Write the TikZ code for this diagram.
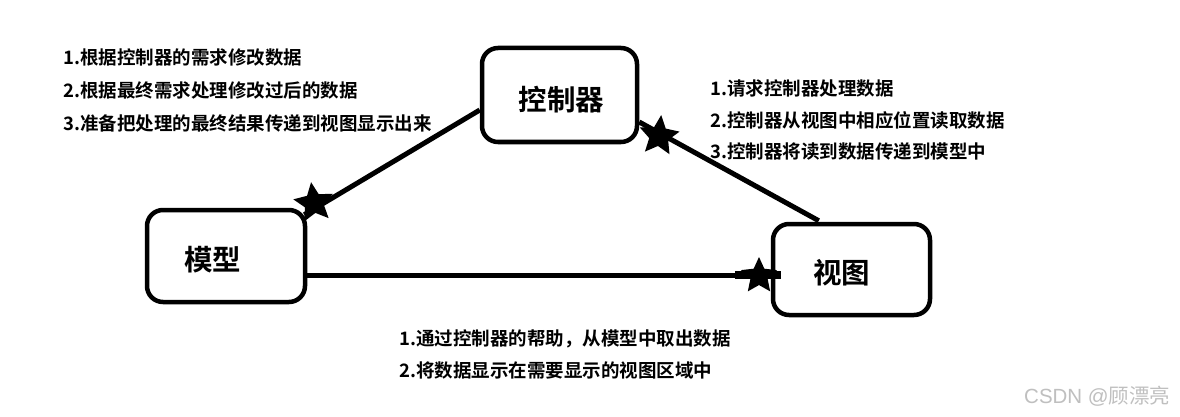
\documentclass[tikz,border=0pt]{standalone}
\usepackage{fontspec}
\setmainfont{Noto Sans CJK SC}[BoldFont={Noto Sans CJK SC Bold}]
\newfontfamily\wmlatin{Liberation Sans}
\usetikzlibrary{shapes.geometric,calc}
\tikzset{
  box/.style={draw=black, line width=4.5pt, rounded corners=16pt, fill=white,
    font=\fontsize{28.5}{32}\selectfont\bfseries, inner sep=0pt},
  link/.style={draw=black, line width=5pt},
  note/.style={anchor=west, inner sep=0pt, font=\fontsize{18.5}{22}\selectfont\bfseries},
  starmark/.style={star, star points=5, star point ratio=2.1, fill=black, draw=none, inner sep=0pt},
  wm/.style={anchor=west, inner sep=0pt, text=black!25, font=\fontsize{20.5}{22}\selectfont},
}
\newcommand{\boxtext}[3]{\hspace*{#1}\raisebox{#2}[\height][\depth]{#3}}
\begin{document}
\begin{tikzpicture}[x=1pt,y=-1pt]
\useasboundingbox (0,0) rectangle (1180,417);
\fill[white] (0,0) rectangle (1180,417);
% boxes
\node[box, minimum width=155pt, minimum height=94pt] (ctrl) at (559.5,95) {\boxtext{4pt}{-5pt}{控制器}};
\node[box, minimum width=158pt, minimum height=92pt] (model) at (226,256) {\boxtext{-27pt}{-4pt}{模型}};
\node[box, minimum width=157pt, minimum height=91pt] (view) at (851.5,269.5) {\boxtext{-20pt}{-3.5pt}{视图}};
% connectors
\draw[link] ($(model.north east)+(-3,7)$) -- ($(ctrl.west)+(0,15)$);
\draw[link] ($(ctrl.east)+(0,27)$) -- ($(view.north west)+(48,-1)$);
\draw[link] ($(model.east)+(0,19)$) -- ($(view.west)+(0,5.5)$);
\draw[line width=8pt] ($(view.west)+(-36,5.5)$) -- ($(view.west)+(10,5.5)$);
% stars
\node[starmark, minimum size=42pt, rotate=8] (s1) at (314,203) {};
\node[starmark, minimum size=42pt, rotate=-6] (s2) at (659,136) {};
\node[starmark, minimum size=38pt] (s3) at (759,276) {};
% notes
\node[note] (l1) at (63,57) {1.根据控制器的需求修改数据};
\node[note] (l2) at (63,90) {2.根据最终需求处理修改过后的数据};
\node[note] (l3) at (63,123) {3.准备把处理的最终结果传递到视图显示出来};
\node[note] (r1) at (710,88) {1.请求控制器处理数据};
\node[note] (r2) at (710,120) {2.控制器从视图中相应位置读取数据};
\node[note] (r3) at (710,151) {3.控制器将读到数据传递到模型中};
\node[note] (b1) at (399,339) {1.通过控制器的帮助，从模型中取出数据};
\node[note] (b2) at (399,371) {2.将数据显示在需要显示的视图区域中};
\node[wm] (wm) at (1024,396) {{\wmlatin CSDN @}顾漂亮};
\end{tikzpicture}
\end{document}
